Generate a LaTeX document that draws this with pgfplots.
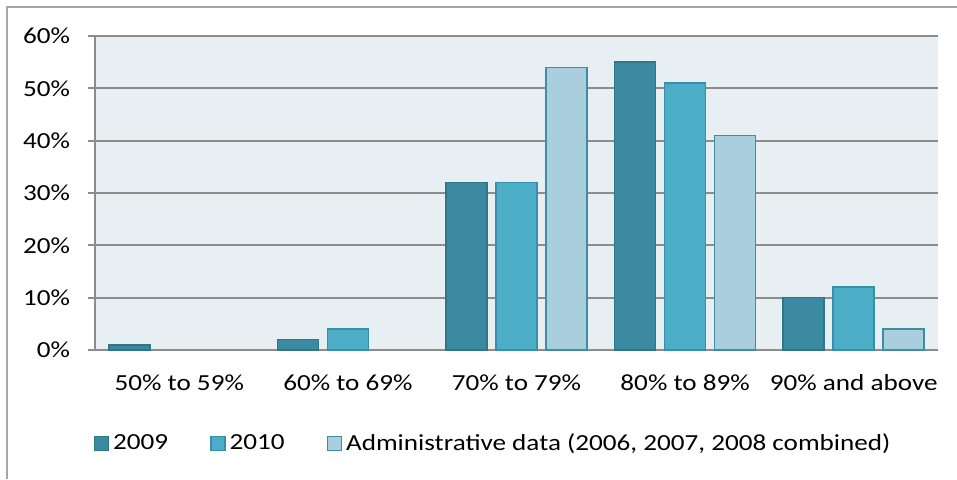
\documentclass[border=0pt]{standalone}
\usepackage{pgfplots}
\pgfplotsset{compat=1.18}
\usepackage{fontspec}
\setmainfont{Carlito}[FakeStretch=1.18]
\definecolor{cA}{HTML}{3B8AA1}
\definecolor{cAb}{HTML}{2F7689}
\definecolor{cB}{HTML}{4BADC6}
\definecolor{cBb}{HTML}{3A8FA8}
\definecolor{cC}{HTML}{A9CFDE}
\definecolor{cCb}{HTML}{3F8CA3}
\definecolor{bg}{HTML}{E8EFF3}
\definecolor{gr}{HTML}{8C8C8C}
\begin{document}
\fontsize{23pt}{27pt}\selectfont
\begin{tikzpicture}[x=1pt,y=1pt]
\useasboundingbox (0,0) rectangle (957,479);
\draw[color=gray!70, line width=2pt] (7,0) -- (7,472) -- (957,472);
\begin{axis}[
  at={(95pt,129pt)}, anchor=south west,
  scale only axis, width=843pt, height=314pt,
  ybar=9pt, bar width=41pt,
  xmin=-0.5, xmax=4.5, ymin=0, ymax=60,
  xtick={0,1,2,3,4},
  xticklabels={50\% to 59\%, 60\% to 69\%, 70\% to 79\%, 80\% to 89\%, 90\% and above},
  ytick={0,10,20,30,40,50,60},
  yticklabel={\pgfmathprintnumber{\tick}\%},
  /pgf/number format/assume math mode=true,
  axis background/.style={fill=bg},
  axis x line*=bottom, axis y line*=left,
  axis line style={draw=gr, line width=2pt, -},
  x tick style={draw=none},
  y tick style={draw=gr, line width=2pt},
  major tick length=7pt,
  tick align=outside,
  ymajorgrids, grid style={draw=gr, line width=2pt},
  yticklabel style={font=\fontsize{23pt}{27pt}\selectfont, xshift=-10pt},
  xticklabel style={font=\fontsize{23pt}{27pt}\selectfont, yshift=-10pt},
  legend style={draw=none, fill=none, at={(0.4715,-0.255)}, anchor=north,
    font=\fontsize{23pt}{27pt}\selectfont, legend columns=-1,
    nodes={inner sep=1pt},
    /tikz/every even column/.append style={column sep=41pt},
    /tikz/every odd column/.append style={column sep=3pt}},
  legend image code/.code={\draw[#1, line width=1.5pt] (0pt,-7pt) rectangle (14pt,7pt);},
]
\addplot[fill=cA, draw=cAb, line width=1.5pt] coordinates {(0,1) (1,2) (2,32) (3,55) (4,10)};
\addplot[fill=cB, draw=cBb, line width=1.5pt] coordinates {(1,4) (2,32) (3,51) (4,12)};
\addplot[fill=cC, draw=cCb, line width=1.5pt] coordinates {(2,54) (3,41) (4,4)};
\legend{2009, 2010, {Administrative data (2006, 2007, 2008 combined)}}
\end{axis}
\end{tikzpicture}
\end{document}
